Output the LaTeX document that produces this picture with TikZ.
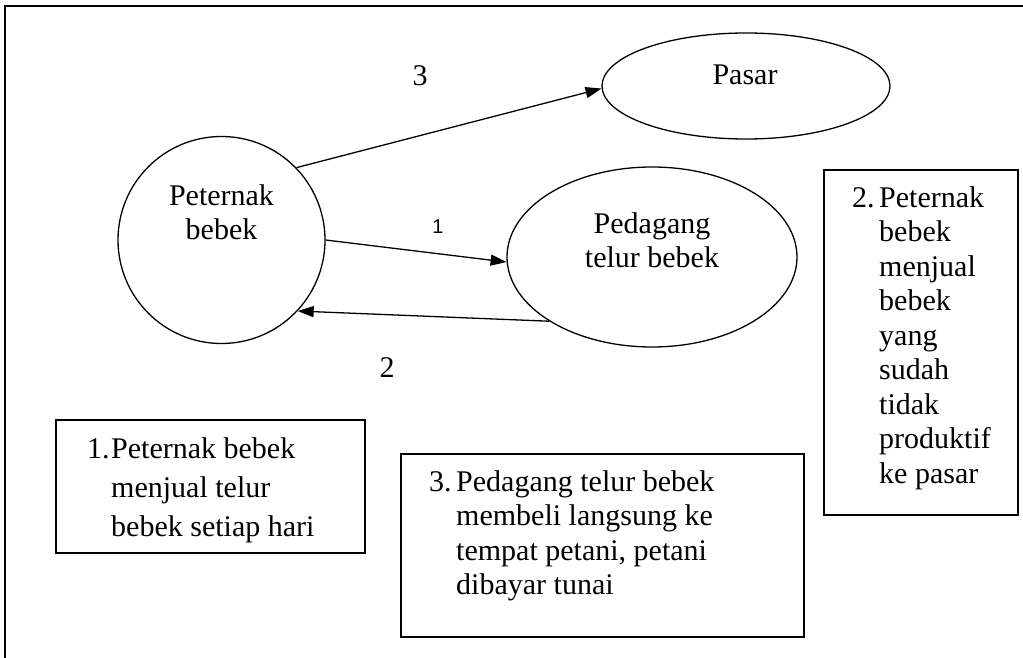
\documentclass[tikz,border=0pt]{standalone}
\usepackage{fontspec}
\setmainfont{Liberation Serif}
\newfontfamily\labelsans{Liberation Sans}
\usetikzlibrary{shapes.geometric,arrows.meta}
\newcommand{\firstline}{\rule{0pt}{24pt}}
\begin{document}
\begin{tikzpicture}[x=1pt,y=-1pt,
  actor/.style={draw, line width=1.3pt, inner sep=0pt},
  notebox/.style={draw, line width=1.6pt, inner sep=0pt, rectangle},
  flow/.style={line width=1.3pt, -{Triangle[length=16pt,width=11pt]}},
  body/.style={font=\fontsize{30}{34.5}\selectfont, inner sep=0pt, align=left, anchor=north west},
  wide/.style={font=\fontsize{30}{39}\selectfont, inner sep=0pt, align=left, anchor=north west},
  centred/.style={font=\fontsize{30}{34.5}\selectfont, inner sep=0pt, align=center, anchor=north},
  num/.style={font=\fontsize{30}{34.5}\selectfont, inner sep=0pt, anchor=center},
  smallnum/.style={font=\labelsans\fontsize{20}{24}\selectfont, inner sep=0pt, anchor=center}
]
\useasboundingbox (0,0) rectangle (1023,658);

% outer frame, open to the right and bottom
\draw[line width=1.8pt] (5,658) -- (5,6) -- (1023,6);

% actors
\node[actor, circle, minimum size=207pt] (peternak) at (221.5,240) {};
\node[actor, ellipse, minimum width=288pt, minimum height=106pt] (pasar) at (746,86) {};
\node[actor, ellipse, minimum width=290pt, minimum height=180pt] (pedagang) at (652,257) {};

\node[centred] (tpeternak) at (221.5,181) {\firstline Peternak\\bebek};
\node[centred] (tpasar) at (745,60) {\firstline Pasar};
\node[centred] (tpedagang) at (652,209) {\firstline Pedagang\\telur bebek};

% flows
\draw[flow] (peternak.44) -- (pasar.181);
\draw[flow] (peternak.0) -- (pedagang.182);
\draw[flow] (pedagang.212) -- (peternak.317);

\node[num] (l3) at (420,76) {3};
\node[smallnum] (l1) at (438,227) {1};
\node[num] (l2) at (387,368) {2};

% explanation boxes
\node[notebox, minimum width=309pt, minimum height=133pt] (box1) at (210.5,486.5) {};
\node[wide] (n1) at (87,434) {\firstline 1.};
\node[wide] (t1) at (111,434) {\firstline Peternak bebek\\menjual telur\\bebek setiap hari};

\node[notebox, minimum width=194pt, minimum height=345pt] (box2) at (921,342.5) {};
\node[body] (n2) at (852,183) {\firstline 2.};
\node[body] (t2) at (879,183) {\firstline Peternak\\bebek\\menjual\\bebek\\yang\\sudah\\tidak\\produktif\\ke pasar};

\node[notebox, minimum width=403pt, minimum height=183pt] (box3) at (602.5,545.5) {};
\node[body] (n3) at (429,467) {\firstline 3.};
\node[body] (t3) at (456,467) {\firstline Pedagang telur bebek\\membeli langsung ke\\tempat petani, petani\\dibayar tunai};
\end{tikzpicture}
\end{document}
